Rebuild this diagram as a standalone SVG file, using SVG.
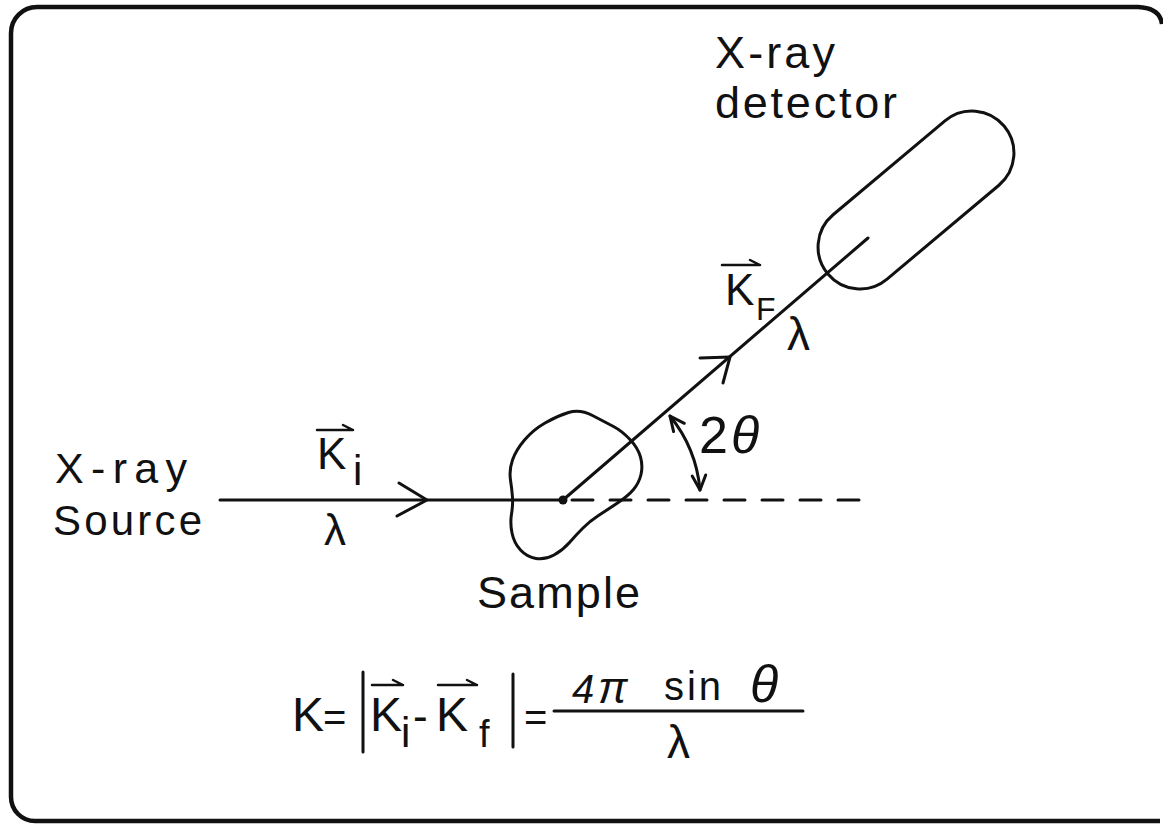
<svg xmlns="http://www.w3.org/2000/svg" width="1163" height="825" viewBox="0 0 1163 825">
<style>
.ln{stroke:#111;stroke-width:3;fill:none;stroke-linecap:round;stroke-linejoin:round}
.t{font-family:"Liberation Sans","DejaVu Sans",sans-serif;fill:#111}
.it{font-style:italic}
.vec{stroke:#111;stroke-width:2.5;fill:none;stroke-linecap:round;stroke-linejoin:round}
</style>
<rect x="0" y="0" width="1163" height="825" fill="#fff"/>
<path id="frame" d="M1162,24 Q1160,8 1138,7 L37,7 A26,26 0 0 0 11,33 L11,797 A24,24 0 0 0 35,821 L1160,821" fill="none" stroke="#111" stroke-width="4.5"/>

<g id="connectors">
  <line class="ln" x1="220" y1="500" x2="563" y2="500"/>
  <polyline class="ln" points="399,483 427,500 397,516"/>
  <line class="ln" x1="572" y1="500" x2="860" y2="500" stroke-dasharray="21 17" stroke-linecap="butt"/>
  <line class="ln" x1="563" y1="500" x2="868" y2="238"/>
  <polyline class="ln" points="700,358 730,357 723,383"/>
  <path class="ln" d="M670,416 A137,137 0 0 1 700,490" stroke-width="2.5"/>
  <polyline class="ln" points="673.6,431.6 670,416 684.3,423.3" stroke-width="2.5"/>
  <polyline class="ln" points="705.7,475 700,490 692.2,476" stroke-width="2.5"/>
</g>

<g id="source">
  <text class="t" x="55" y="483" font-size="43" textLength="132">X-ray</text>
  <text class="t" x="53" y="535" font-size="42" textLength="149">Source</text>
</g>

<g id="sample">
  <path class="ln" stroke-width="3.5" d="M568.5,412.5 Q580,409 592.5,415.5 Q605,422 613.5,426.5 Q622,431 630,439.5 Q638,448 640.5,457 Q643,466 641,474.5 Q639,483 633.5,489.5 Q628,496 617.5,503 Q607,510 598.5,515.5 Q590,521 583,528 Q576,535 569.5,542.5 Q563,550 554,555 Q545,560 536,558.5 Q527,557 520.5,550 Q514,543 512,533 Q510,523 511.5,514 Q513,505 512.5,497.5 Q512,490 510.5,480 Q509,470 512.5,460 Q516,450 524.5,440 Q533,430 545,423 Q557,416 568.5,412.5 Z"/>
  <circle cx="563" cy="500" r="4.5" fill="#111"/>
  <text class="t" x="477" y="608" font-size="45" textLength="163">Sample</text>
</g>

<g id="detector">
  <rect class="ln" x="-115" y="-42" width="230" height="84" rx="42" transform="translate(916,200) rotate(-40)"/>
  <text class="t" x="715" y="68" font-size="45" textLength="120">X-ray</text>
  <text class="t" x="715" y="118" font-size="45" textLength="182">detector</text>
</g>

<g id="labels">
  <path class="vec" d="M317,430 L353,430 M343,425 L353,430"/>
  <text class="t" x="317" y="469" font-size="44">K</text>
  <text class="t" x="353" y="485" font-size="42">i</text>
  <text class="t" x="324" y="545" font-size="44">λ</text>

  <path class="vec" d="M722,265 L760,265 M750,260 L760,265"/>
  <text class="t" x="725" y="305" font-size="44">K</text>
  <text class="t" x="756" y="320" font-size="32">F</text>
  <text class="t" x="787" y="350" font-size="46">λ</text>

  <text class="t" x="699" y="453" font-size="52">2<tspan class="it" dx="3">θ</tspan></text>
</g>

<g id="formula">
  <text class="t" x="292" y="731" font-size="48">K</text>
  <text class="t" x="323" y="731" font-size="40">=</text>
  <line class="ln" x1="363" y1="672" x2="363" y2="752"/>
  <path class="vec" d="M372,685 L403,685 M393,680 L403,685"/>
  <text class="t" x="370" y="731" font-size="48">K</text>
  <text class="t" x="401" y="747" font-size="42">i</text>
  <text class="t" x="413" y="731" font-size="44">-</text>
  <path class="vec" d="M438,685 L477,685 M467,680 L477,685"/>
  <text class="t" x="436" y="731" font-size="48">K</text>
  <text class="t" x="479" y="747" font-size="38">f</text>
  <line class="ln" x1="513" y1="674" x2="513" y2="747"/>
  <text class="t" x="524" y="731" font-size="40">=</text>
  <line class="ln" x1="554" y1="711" x2="803" y2="711"/>
  <text class="t it" x="572" y="703" font-size="40">4</text>
  <text class="t it" x="598" y="703" font-size="44">π</text>
  <text class="t" x="664" y="700" font-size="40" textLength="57">sin</text>
  <text class="t it" x="750" y="702" font-size="52">θ</text>
  <text class="t" x="667" y="758" font-size="46">λ</text>
</g>
</svg>
